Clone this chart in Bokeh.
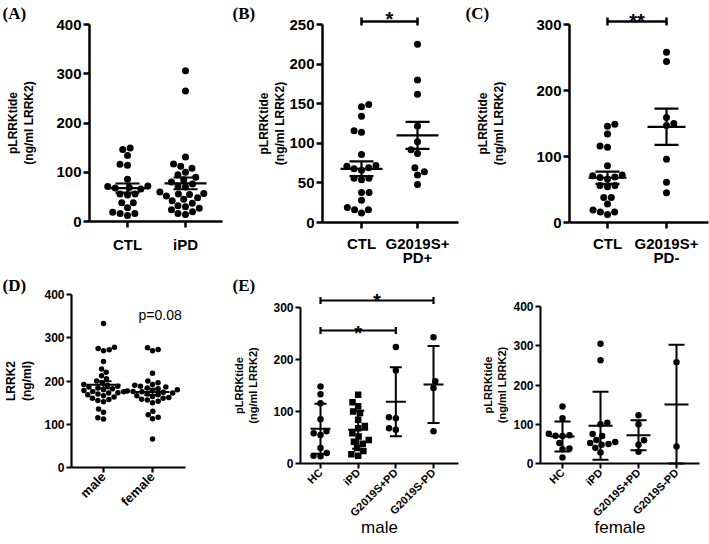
import numpy as np
from math import pi
from bokeh.plotting import figure
from bokeh.layouts import column, row
from bokeh.models import Range1d, FixedTicker, Label
from bokeh.embed import file_html
from bokeh.resources import INLINE

# ---------------- data ----------------
ctl_pLRRKtide = [149, 146, 134, 116, 114, 86, 72, 71, 69, 68, 66, 56, 56, 54, 38, 38, 28, 19, 16, 16, 12]
ipd_pLRRKtide = [306, 265, 131, 117, 112, 108, 100, 95, 90, 85, 80, 76, 72, 70, 60, 57, 56, 55, 52,
                 48, 45, 42, 37, 32, 30, 27, 24, 20, 16, 14]
g2019s_pd_pos = [225, 180, 162, 122, 102, 92, 87, 69, 64, 60, 48]
g2019s_pd_neg = [258, 244, 159, 150, 147, 96, 61, 45]
lrrk2_male = [333, 278, 275, 272, 270, 245, 228, 220, 212, 205, 200, 196, 192, 190, 188, 186, 184, 182,
              180, 178, 176, 175, 173, 172, 170, 168, 166, 163, 160, 157, 155, 152, 135, 128, 115, 112]
lrrk2_female = [277, 273, 270, 218, 200, 196, 192, 190, 188, 186, 184, 182, 180, 178, 177, 176, 175, 174,
                172, 170, 168, 166, 164, 162, 160, 158, 156, 153, 150, 130, 122, 116, 113, 66]
male_hc = [148, 133, 116, 85, 62, 58, 55, 30, 20, 15, 14]
male_ipd = [132, 118, 110, 100, 97, 84, 72, 68, 58, 52, 45, 42, 38, 30, 24, 18, 15]
male_g2019s_pd_pos = [224, 179, 89, 87, 68, 65]
male_g2019s_pd_neg = [243, 158, 145, 62]
female_hc = [145, 115, 76, 72, 71, 70, 52, 38, 36, 15]
female_ipd = [305, 263, 104, 100, 75, 70, 60, 55, 52, 50, 48, 40, 28]
female_g2019s_pd_pos = [123, 100, 59, 48, 30]
female_g2019s_pd_neg = [258, 43]

cats_A = ["CTL", "iPD"]
cats_B = ["CTL", "G2019S+"]
cats_B_line2 = ["", "PD+"]
cats_C = ["CTL", "G2019S+"]
cats_C_line2 = ["", "PD-"]
cats_D = ["male", "female"]
cats_E = ["HC", "iPD", "G2019S+PD", "G2019S-PD"]
ticks_A = [0, 100, 200, 300, 400]
ticks_B = [0, 50, 100, 150, 200, 250]
ticks_C = [0, 100, 200, 300]
ticks_D = [0, 100, 200, 300, 400]
ticks_E_male = [0, 100, 200, 300]
ticks_E_female = [0, 100, 200, 300, 400]

FONT = "Liberation Sans"
SERIF = "Liberation Serif"


class Panel:
    """Whole figure is the frame; axes are pinned with fixed_location."""
    def __init__(self, W, H, axl, axr, axb, top_px, top_val, c1_px, cn_px, ncat):
        self.axb = axb
        self.yppu = (axb - top_px) / top_val
        self.xppu = (cn_px - c1_px) / (ncat - 1)
        self.x0 = 1 - c1_px / self.xppu
        x1 = self.x0 + W / self.xppu
        y0 = (axb - H) / self.yppu
        y1 = axb / self.yppu
        self.p = figure(width=W, height=H, x_range=Range1d(self.x0, x1), y_range=Range1d(y0, y1),
                        output_backend="svg", toolbar_location=None, min_border=0,
                        min_border_left=0, min_border_right=0, min_border_top=0, min_border_bottom=0)
        self.axl_d = self.dx(axl)
        self.axr_d = self.dx(axr)

    def dx(self, px):
        return self.x0 + px / self.xppu

    def dy(self, py):
        return (self.axb - py) / self.yppu


def style(P, yticks, cats, tick_fs, xtick_fs, ylab, ylab_fs, ylab_standoff, lw, tick_out,
          orient="horizontal", xstand=2):
    p = P.p
    p.xgrid.visible = False
    p.ygrid.visible = False
    p.outline_line_color = None
    p.background_fill_color = "white"
    p.border_fill_color = "white"
    for ax in (p.xaxis[0], p.yaxis[0]):
        ax.axis_line_width = lw
        ax.axis_line_color = "black"
        ax.major_tick_line_width = lw
        ax.major_tick_line_color = "black"
        ax.major_tick_out = tick_out
        ax.major_tick_in = 0
        ax.minor_tick_line_color = None
        ax.major_label_text_font = FONT
        ax.major_label_text_font_style = "bold"
        ax.major_label_text_color = "black"
        ax.major_label_standoff = 2
    yax = p.yaxis[0]
    yax.fixed_location = P.axl_d
    yax.major_label_text_font_size = f"{tick_fs}px"
    yax.ticker = FixedTicker(ticks=yticks)
    yax.bounds = (0, yticks[-1])
    yax.axis_label = ylab
    yax.axis_label_text_font = FONT
    yax.axis_label_text_font_style = "bold"
    yax.axis_label_text_font_size = f"{ylab_fs}px"
    yax.axis_label_text_color = "black"
    yax.axis_label_standoff = ylab_standoff
    xax = p.xaxis[0]
    xax.fixed_location = 0
    xax.bounds = (P.axl_d, P.axr_d)
    xax.major_label_standoff = xstand
    xax.major_label_text_font_size = f"{xtick_fs}px"
    xax.ticker = FixedTicker(ticks=list(range(1, len(cats) + 1)))
    xax.major_label_overrides = {i + 1: c for i, c in enumerate(cats)}
    xax.major_label_orientation = orient


def second_line(P, texts, py, fs):
    for i, t in enumerate(texts, start=1):
        if t:
            P.p.add_layout(Label(x=i, y=P.dy(py), text=t, text_align="center",
                                 text_baseline="top", text_font=FONT, text_font_style="bold",
                                 text_font_size=f"{fs}px", text_color="black"))


def swarm_offsets(vals, xppu, yppu, d):
    vals = np.asarray(vals, float)
    order = np.argsort(vals)
    px_l, py_l = [], []
    offs = np.zeros(len(vals))
    for k, idx in enumerate(order):
        y = vals[idx] * yppu
        cands = [0.0]
        for a, b in zip(px_l, py_l):
            dyy = abs(y - b)
            if dyy < d:
                dxx = np.sqrt(d * d - dyy * dyy)
                cands += [a + dxx + 1e-6, a - dxx - 1e-6]
        sgn = 1 if k % 2 else -1
        best = 0.0
        for c in sorted(cands, key=lambda c: (round(abs(c), 6), sgn * c)):
            if all((c - a) ** 2 + (y - b) ** 2 >= d * d - 1e-6 for a, b in zip(px_l, py_l)):
                best = c
                break
        px_l.append(best)
        py_l.append(y)
        offs[idx] = best / xppu
    return offs


def dots(P, i, vals, size, d, marker="circle"):
    offs = swarm_offsets(vals, P.xppu, P.yppu, d)
    P.p.scatter(x=i + offs, y=vals, size=size, marker=marker, fill_color="black",
                line_color="black", line_width=0)


def mean_err(P, i, vals, kind, half_mean_px, half_cap_px, lw):
    v = np.asarray(vals, float)
    m = v.mean()
    sd = v.std(ddof=1)
    e = sd / np.sqrt(len(v)) if kind == "sem" else sd
    lo = max(m - e, 0)
    hm = half_mean_px / P.xppu
    hc = half_cap_px / P.xppu
    P.p.segment(x0=[i - hm, i, i - hc, i - hc], y0=[m, lo, m + e, lo],
                x1=[i + hm, i, i + hc, i + hc], y1=[m, m + e, m + e, lo],
                line_color="black", line_width=lw)


def bracket(P, i0, i1, py, cap_px, lw, star, star_fs, star_cy):
    y = P.dy(py)
    c = cap_px / P.yppu
    P.p.segment(x0=[i0, i0, i1], y0=[y, y - c, y - c], x1=[i1, i0, i1], y1=[y, y + c, y + c],
                line_color="black", line_width=lw)
    base_py = star_cy + 0.58 * star_fs
    P.p.add_layout(Label(x=(i0 + i1) / 2, y=P.dy(base_py), text=star, text_align="center",
                         text_baseline="alphabetic", text_font=FONT, text_font_style="bold",
                         text_font_size=f"{star_fs}px", text_color="black"))


def panel_label(P, text, px, py):
    P.p.add_layout(Label(x=P.dx(px), y=P.dy(py), text=text, text_align="left", text_baseline="top",
                         text_font=SERIF, text_font_style="bold", text_font_size="17px",
                         text_color="black"))


def group_label(P, text, standoff):
    ax = P.p.xaxis[0]
    ax.axis_label = text
    ax.axis_label_text_font = FONT
    ax.axis_label_text_font_style = "normal"
    ax.axis_label_text_font_size = "17px"
    ax.axis_label_text_color = "black"
    ax.axis_label_standoff = standoff


YLAB = "pLRRKtide\n(ng/ml LRRK2)"
H1, H2 = 271, 273
R2 = H1  # vertical offset of the second row in the page

# ---------------- (A) ----------------
A = Panel(230, H1, 89, 222, 221, 24, 400, 127, 185, 2)
style(A, ticks_A, cats_A, 15, 15, YLAB, 12, 17, 2.5, 6, xstand=8)
dots(A, 1, ctl_pLRRKtide, 7, 7.6)
dots(A, 2, ipd_pLRRKtide, 7, 7.6)
mean_err(A, 1, ctl_pLRRKtide, "sem", 21, 12, 2.2)
mean_err(A, 2, ipd_pLRRKtide, "sem", 21, 12, 2.2)
panel_label(A, "(A)", 2, 3)

# ---------------- (B) ----------------
B = Panel(230, H1, 92, 228, 222, 24, 250, 131, 187, 2)
style(B, ticks_B, cats_B, 15, 15, YLAB, 12, -1, 2.5, 6, xstand=6)
second_line(B, cats_B_line2, 248, 15)
dots(B, 1, ctl_pLRRKtide, 7, 7.6)
dots(B, 2, g2019s_pd_pos, 7, 7.6)
mean_err(B, 1, ctl_pLRRKtide, "sem", 21, 12, 2.2)
mean_err(B, 2, g2019s_pd_pos, "sem", 21, 12, 2.2)
bracket(B, 1, 2, 21, 4, 2.5, "*", 20, 7)
panel_label(B, "(B)", 2, 3)

# ---------------- (C) ----------------
C = Panel(249, H1, 109, 248, 222, 24, 300, 147, 206, 2)
style(C, ticks_C, cats_C, 15, 15, YLAB, 12, 27, 2.5, 6, xstand=6)
second_line(C, cats_C_line2, 248, 15)
dots(C, 1, ctl_pLRRKtide, 7, 7.6)
dots(C, 2, g2019s_pd_neg, 7, 7.6)
mean_err(C, 1, ctl_pLRRKtide, "sem", 19, 12, 2.2)
mean_err(C, 2, g2019s_pd_neg, "sem", 19, 12, 2.2)
bracket(C, 1, 2, 21, 4, 2.5, "**", 20, 9)
panel_label(C, "(C)", 5, 3)

# ---------------- (D) ----------------
D = Panel(230, H2, 71, 185, 467 - R2, 294 - R2, 400, 103, 152, 2)
style(D, ticks_D, cats_D, 12, 13, "LRRK2\n(ng/ml)", 12, 7, 2.2, 5, pi / 4)
dots(D, 1, lrrk2_male, 5.5, 5.8)
dots(D, 2, lrrk2_female, 5.5, 5.8)
mean_err(D, 1, lrrk2_male, "sem", 17, 8, 2)
mean_err(D, 2, lrrk2_female, "sem", 17, 8, 2)
D.p.add_layout(Label(x=D.dx(138), y=D.dy(306 - R2), text="p=0.08", text_align="left",
                     text_baseline="top", text_font=FONT, text_font_size="14px", text_color="black"))
panel_label(D, "(D)", 2, 275 - R2)

# ---------------- (E) male ----------------
E1 = Panel(240, H2, 70, 228, 463 - R2, 307 - R2, 300, 90, 203, 4)
style(E1, ticks_E_male, cats_E, 12, 11, YLAB, 11, 11, 2, 5, pi / 4)
group_label(E1, "male", -8)
for i, vals in enumerate([male_hc, male_ipd, male_g2019s_pd_pos, male_g2019s_pd_neg], start=1):
    dots(E1, i, vals, 6.5, 7, "square" if i == 2 else "circle")
    mean_err(E1, i, vals, "sd", 10, 6, 2)
bracket(E1, 1, 3, 330 - R2, 3.5, 2.2, "*", 20, 321 - R2)
bracket(E1, 1, 4, 300 - R2, 3.5, 2.2, "*", 20, 289 - R2)
panel_label(E1, "(E)", 2, 275 - R2)

# ---------------- (E) female ----------------
E2 = Panel(239, H2, 70, 229, 463 - R2, 306 - R2, 400, 92, 206, 4)
style(E2, ticks_E_female, cats_E, 12, 11, YLAB, 11, 2, 2, 5, pi / 4)
group_label(E2, "female", -8)
for i, vals in enumerate([female_hc, female_ipd, female_g2019s_pd_pos, female_g2019s_pd_neg], start=1):
    dots(E2, i, vals, 6.5, 7)
    mean_err(E2, i, vals, "sd", 12, 8, 2)

layout = column(row(A.p, B.p, C.p), row(D.p, E1.p, E2.p))
open("out.html", "w").write(file_html(layout, INLINE))
